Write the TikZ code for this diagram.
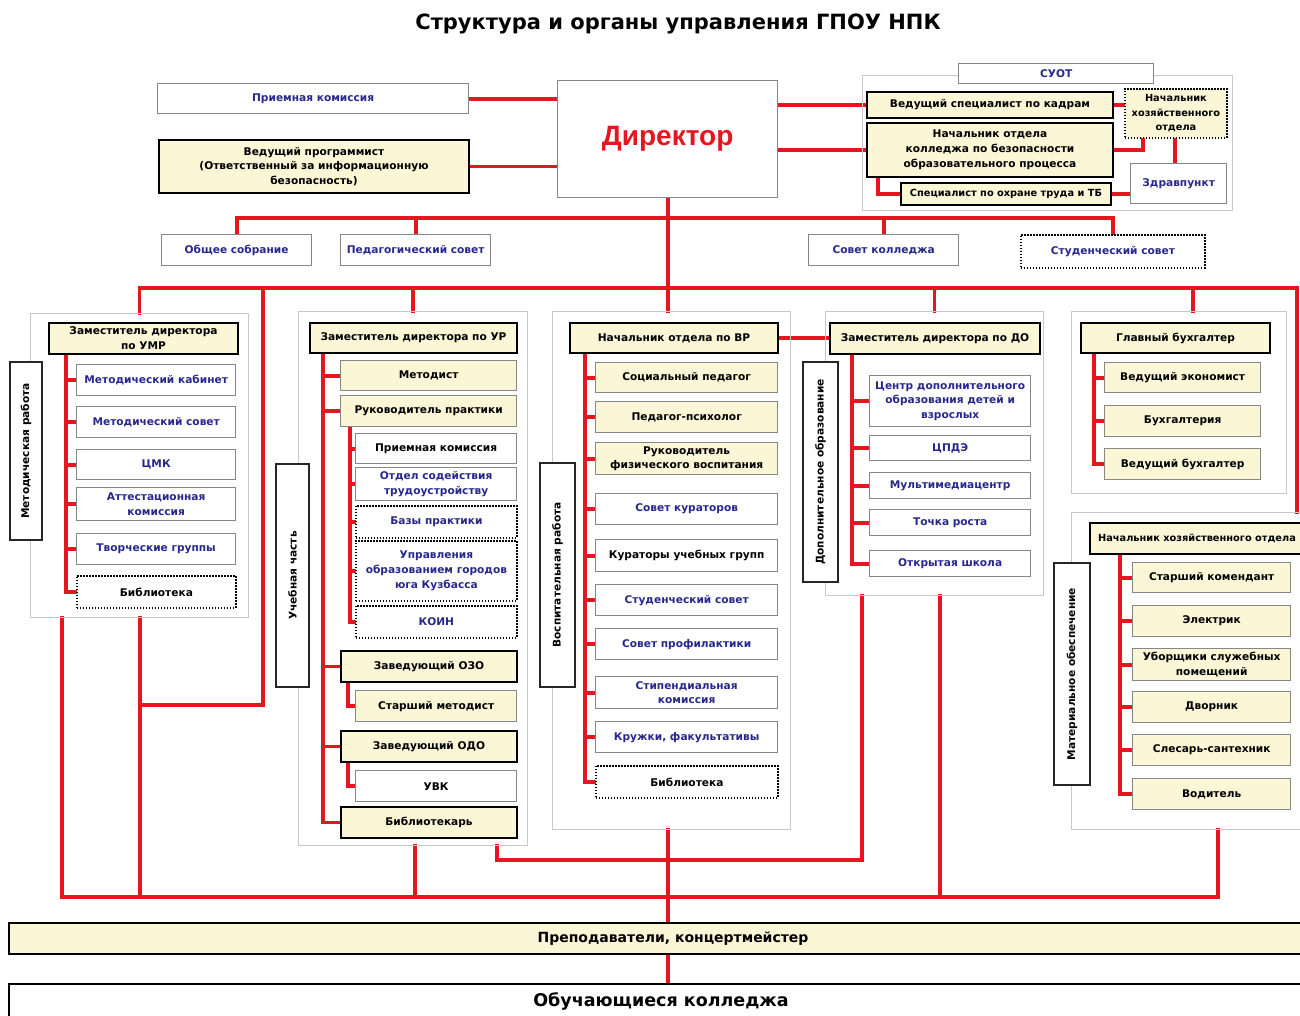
\documentclass[tikz,border=0pt]{standalone}
\usepackage{fontspec}
\setmainfont{DejaVu Sans}
\newfontfamily\libsans{Liberation Sans}
\usetikzlibrary{calc}
\definecolor{cred}{RGB}{230,22,32}
\definecolor{cyel}{RGB}{251,246,214}
\definecolor{cnavy}{RGB}{40,40,140}
\definecolor{cgray}{RGB}{135,135,135}
\definecolor{cgrp}{RGB}{200,200,200}
\pgfdeclarelayer{bg}
\pgfdeclarelayer{lines}
\pgfsetlayers{bg,lines,main}
\newcommand\mybox[7]{\node[#1, anchor=north west, minimum width={(#5-#3)*1pt}, minimum height={(#6-#4)*1pt}] (#2) at (#3,#4) {#7};}
\newcommand\myside[6]{\node[sidebox, minimum width={(#5-#3)*1pt}, minimum height={(#4-#2)*1pt}] (#1) at ({(#2+#4)/2},{(#3+#5)/2}) {#6};}
\tikzset{
  basebox/.style={rectangle, inner sep=1pt, align=center, font=\bfseries\fontsize{10.6}{14.8}\selectfont},
  wbox/.style={basebox, draw=cgray, line width=1.3pt, fill=white, text=cnavy},
  wboxk/.style={wbox, text=black},
  ybox/.style={basebox, draw=cgray, line width=1.3pt, fill=cyel, text=black},
  hbox/.style={basebox, draw=black, line width=2pt, fill=cyel, text=black},
  dbox/.style={basebox, draw=black, line width=1.8pt, dash pattern=on 1.5pt off 1.5pt, fill=white, text=black},
  dboxn/.style={dbox, text=cnavy},
  dboxy/.style={dbox, fill=cyel},
  grp/.style={rectangle, draw=cgrp, line width=1pt, inner sep=0pt},
  sidebox/.style={basebox, draw=black!85, line width=2pt, fill=white, text=black, rotate=90},
  redl/.style={draw=cred, line width=3.8pt, line cap=rect, line join=miter}
}
\begin{document}
\begin{tikzpicture}[x=1pt,y=-1pt]
\begin{pgfonlayer}{bg}
\fill[white] (0,0) rectangle (1300,1015);
\end{pgfonlayer}
\useasboundingbox (0,0) rectangle (1300,1015);
\clip (0,0) rectangle (1300,1015);

\node[font=\bfseries\fontsize{21}{24}\selectfont] (title) at (678,24) {Структура и органы управления ГПОУ НПК};

% top
\mybox{wbox}{pk}{157}{83}{468}{113}{Приемная комиссия}
\mybox{hbox}{vp}{158}{139}{468}{192}{Ведущий программист\\(Ответственный за информационную\\безопасность)}
\mybox{wbox, text=cred, font=\libsans\bfseries\fontsize{28}{30}\selectfont}{dir}{557}{80}{777}{197}{Директор}
\mybox{grp}{suot}{862}{75}{1232}{210}{}
\mybox{wbox}{suotl}{958}{63}{1153}{83}{СУОТ}
\mybox{hbox}{kadr}{866}{91}{1112}{117}{Ведущий специалист по кадрам}
\mybox{hbox}{nob}{866}{122}{1112}{176}{Начальник отдела\\колледжа по безопасности\\образовательного процесса}
\mybox{dboxy, font=\bfseries\fontsize{9.8}{14.5}\selectfont}{nhz}{1124}{88}{1226}{137}{Начальник\\хозяйственного\\отдела}
\mybox{hbox, font=\bfseries\fontsize{9.8}{14}\selectfont}{spec}{900}{182}{1110}{204}{Специалист по охране труда и ТБ}
\mybox{wbox}{zdr}{1130}{163}{1226}{203}{Здравпункт}
\mybox{wbox}{os}{161}{234}{311}{265}{Общее собрание}
\mybox{wbox}{ps}{340}{234}{490}{265}{Педагогический совет}
\mybox{wbox}{sk}{808}{234}{958}{265}{Совет колледжа}
\mybox{dboxn}{ss}{1020}{234}{1204}{267}{Студенческий совет}

% group 1
\mybox{grp}{g1}{30}{313}{248}{617}{}
\mybox{hbox}{umr}{48}{322}{237}{353}{Заместитель директора\\по УМР}
\myside{s1}{10}{362}{42}{540}{Методическая работа}
\mybox{wbox}{m1}{76}{364}{235}{395}{Методический кабинет}
\mybox{wbox}{m2}{76}{406}{235}{437}{Методический совет}
\mybox{wbox}{m3}{76}{449}{235}{479}{ЦМК}
\mybox{wbox}{m4}{76}{487}{235}{520}{Аттестационная\\комиссия}
\mybox{wbox}{m5}{76}{533}{235}{564}{Творческие группы}
\mybox{dbox}{m6}{76}{575}{235}{607}{Библиотека}

% group 2
\mybox{grp}{g2}{298}{311}{527}{845}{}
\mybox{hbox}{ur}{309}{322}{516}{352}{Заместитель директора по УР}
\myside{s2}{276}{464}{309}{687}{Учебная часть}
\mybox{ybox}{u1}{340}{360}{516}{390}{Методист}
\mybox{ybox}{u2}{340}{395}{516}{426}{Руководитель практики}
\mybox{wboxk}{u3}{355}{433}{516}{463}{Приемная комиссия}
\mybox{wbox}{u4}{355}{467}{516}{500}{Отдел содействия\\трудоустройству}
\mybox{dboxn}{u5}{355}{505}{516}{537}{Базы практики}
\mybox{dboxn}{u6}{355}{540}{516}{600}{Управления\\образованием городов\\юга Кузбасса}
\mybox{dboxn}{u7}{355}{605}{516}{637}{КОИН}
\mybox{hbox}{u8}{340}{650}{516}{681}{Заведующий ОЗО}
\mybox{ybox}{u9}{355}{690}{516}{721}{Старший методист}
\mybox{hbox}{u10}{340}{730}{516}{761}{Заведующий ОДО}
\mybox{wboxk}{u11}{355}{770}{516}{801}{УВК}
\mybox{hbox}{u12}{340}{806}{516}{837}{Библиотекарь}

% group 3
\mybox{grp}{g3}{552}{311}{790}{829}{}
\mybox{hbox}{vr}{569}{322}{777}{352}{Начальник отдела по ВР}
\myside{s3}{540}{463}{575}{687}{Воспитательная работа}
\mybox{ybox}{v1}{595}{362}{777}{392}{Социальный педагог}
\mybox{ybox}{v2}{595}{401}{777}{432}{Педагог-психолог}
\mybox{ybox}{v3}{595}{442}{777}{474}{Руководитель\\физического воспитания}
\mybox{wbox}{v4}{595}{493}{777}{524}{Совет кураторов}
\mybox{wboxk}{v5}{595}{539}{777}{571}{Кураторы учебных групп}
\mybox{wbox}{v6}{595}{584}{777}{615}{Студенческий совет}
\mybox{wbox}{v7}{595}{628}{777}{659}{Совет профилактики}
\mybox{wbox}{v8}{595}{676}{777}{708}{Стипендиальная\\комиссия}
\mybox{wbox}{v9}{595}{721}{777}{752}{Кружки, факультативы}
\mybox{dbox}{v10}{595}{765}{777}{797}{Библиотека}

% group 4
\mybox{grp}{g4}{825}{311}{1043}{595}{}
\mybox{hbox}{do}{829}{322}{1039}{353}{Заместитель директора по ДО}
\myside{s4}{803}{362}{838}{582}{Дополнительное образование}
\mybox{wbox}{d1}{869}{375}{1030}{426}{Центр дополнительного\\образования детей и\\взрослых}
\mybox{wbox}{d2}{869}{435}{1030}{460}{ЦПДЭ}
\mybox{wbox}{d3}{869}{472}{1030}{498}{Мультимедиацентр}
\mybox{wbox}{d4}{869}{509}{1030}{535}{Точка роста}
\mybox{wbox}{d5}{869}{550}{1030}{576}{Открытая школа}

% group 5
\mybox{grp}{g5}{1071}{311}{1286}{493}{}
\mybox{hbox}{gb}{1080}{322}{1269}{352}{Главный бухгалтер}
\mybox{ybox}{b1n}{1104}{362}{1260}{392}{Ведущий экономист}
\mybox{ybox}{b2n}{1104}{405}{1260}{436}{Бухгалтерия}
\mybox{ybox}{b3n}{1104}{448}{1260}{479}{Ведущий бухгалтер}

% group 6
\mybox{grp}{g6}{1071}{512}{1302}{829}{}
\mybox{hbox, font=\bfseries\fontsize{9.8}{14}\selectfont}{nh}{1089}{522}{1303}{553}{Начальник хозяйственного отдела}
\myside{s6}{1054}{563}{1090}{785}{Материальное обеспечение}
\mybox{ybox}{h1}{1132}{562}{1290}{592}{Старший комендант}
\mybox{ybox}{h2}{1132}{605}{1290}{636}{Электрик}
\mybox{ybox}{h3}{1132}{648}{1290}{680}{Уборщики служебных\\помещений}
\mybox{ybox}{h4}{1132}{691}{1290}{722}{Дворник}
\mybox{ybox}{h5}{1132}{734}{1290}{765}{Слесарь-сантехник}
\mybox{ybox}{h6}{1132}{778}{1290}{809}{Водитель}

% bottom
\mybox{hbox, font=\bfseries\fontsize{14}{16}\selectfont}{pr}{8}{922}{1336}{953}{Преподаватели, концертмейстер}
\mybox{wboxk, draw=black, line width=2pt, font=\bfseries\fontsize{17.5}{20}\selectfont}{ob}{8}{983}{1312}{1017}{Обучающиеся колледжа}

\begin{pgfonlayer}{lines}
% top
\draw[redl] (pk.east) -- (pk.east -| dir.west);
\draw[redl] (vp.east) -- (vp.east -| dir.west);
\draw[redl] (dir.east |- kadr.west) -- (kadr.west);
\draw[redl] (dir.east |- nob.west) -- (nob.west);
\draw[redl] (kadr.east) -- (kadr.east -| nhz.west);
\coordinate (c1) at (1143,0);
\coordinate (c2) at (1175,0);
\coordinate (c3) at (878,0);
\draw[redl] (nob.east) -| (c1 |- nhz.south);
\draw[redl] (c2 |- nhz.south) -- (c2 |- zdr.north);
\draw[redl] (c3 |- nob.south) |- (spec.west);
\draw[redl] (spec.east) -- (spec.east -| zdr.west);
% director down, first bus
\coordinate (bus1) at (0,218);
\draw[redl] (dir.south) -- (dir.south |- g3.north);
\draw[redl] (os.north) |- (ss.north |- bus1) -- (ss.north);
\draw[redl] (ps.north) -- (ps.north |- bus1);
\draw[redl] (sk.north) -- (sk.north |- bus1);
% second bus
\coordinate (bus2) at (0,288);
\coordinate (rx) at (1297,0);
\coordinate (lx) at (263,0);
\coordinate (k1) at (140,705);
\coordinate (g5x) at (1193,0);
\draw[redl] (g1.north) |- (rx |- bus2) -- (rx |- g6.north);
\draw[redl] (g2.north) -- (g2.north |- bus2);
\draw[redl] (g4.north) -- (g4.north |- bus2);
\draw[redl] (g5x |- g5.north) -- (g5x |- bus2);
\draw[redl] (lx |- bus2) |- (k1);
% bottom bus
\coordinate (bus3) at (0,897);
\coordinate (bus4) at (0,860);
\coordinate (x62) at (62,0);
\coordinate (x415) at (415,0);
\coordinate (x497) at (497,0);
\coordinate (x862) at (862,0);
\coordinate (x940) at (940,0);
\coordinate (x1218) at (1218,0);
\draw[redl] (x62 |- g1.south) |- (x1218 |- bus3) -- (x1218 |- g6.south);
\draw[redl] (k1 |- g1.south) -- (k1 |- bus3);
\draw[redl] (x415 |- g2.south) -- (x415 |- bus3);
\draw[redl] (x497 |- g2.south) |- (x862 |- bus4) -- (x862 |- g4.south);
\draw[redl] (x940 |- g4.south) -- (x940 |- bus3);
\draw[redl] (dir.south |- g3.south) -- (dir.south |- pr.north);
\draw[redl] (dir.south |- pr.south) -- (dir.south |- ob.north);
\draw[redl] (vr.east) -- (vr.east -| do.west);
% group 1 spine
\coordinate (sp1) at (66,0);
\draw[redl] (sp1 |- umr.south) -- (sp1 |- m6.west);
\foreach \n in {m1,m2,m3,m4,m5,m6} \draw[redl] (sp1 |- \n.west) -- (\n.west);
% group 2 spine
\coordinate (sp2) at (323,0);
\coordinate (sp2b) at (350,0);
\coordinate (sp2c) at (348,0);
\draw[redl] (sp2 |- ur.south) -- (sp2 |- u12.west);
\foreach \n in {u1,u2,u8,u10,u12} \draw[redl] (sp2 |- \n.west) -- (\n.west);
\draw[redl] (sp2b |- u2.south) -- (sp2b |- u7.west);
\foreach \n in {u3,u4,u5,u6,u7} \draw[redl] (sp2b |- \n.west) -- (\n.west);
\draw[redl] (sp2c |- u8.south) |- (u9.west);
\draw[redl] (sp2c |- u10.south) |- (u11.west);
% group 3 spine
\coordinate (sp3) at (585,0);
\draw[redl] (sp3 |- vr.south) -- (sp3 |- v10.west);
\foreach \n in {v1,v2,v3,v4,v5,v6,v7,v8,v9,v10} \draw[redl] (sp3 |- \n.west) -- (\n.west);
% group 4 spine
\coordinate (sp4) at (852,0);
\draw[redl] (sp4 |- do.south) -- (sp4 |- d5.west);
\foreach \n in {d1,d2,d3,d4,d5} \draw[redl] (sp4 |- \n.west) -- (\n.west);
% group 5 spine
\coordinate (sp5) at (1094,0);
\draw[redl] (sp5 |- gb.south) -- (sp5 |- b3n.west);
\foreach \n in {b1n,b2n,b3n} \draw[redl] (sp5 |- \n.west) -- (\n.west);
% group 6 spine
\coordinate (sp6) at (1120,0);
\draw[redl] (sp6 |- nh.south) -- (sp6 |- h6.west);
\foreach \n in {h1,h2,h3,h4,h5,h6} \draw[redl] (sp6 |- \n.west) -- (\n.west);
\end{pgfonlayer}
\end{tikzpicture}
\end{document}
